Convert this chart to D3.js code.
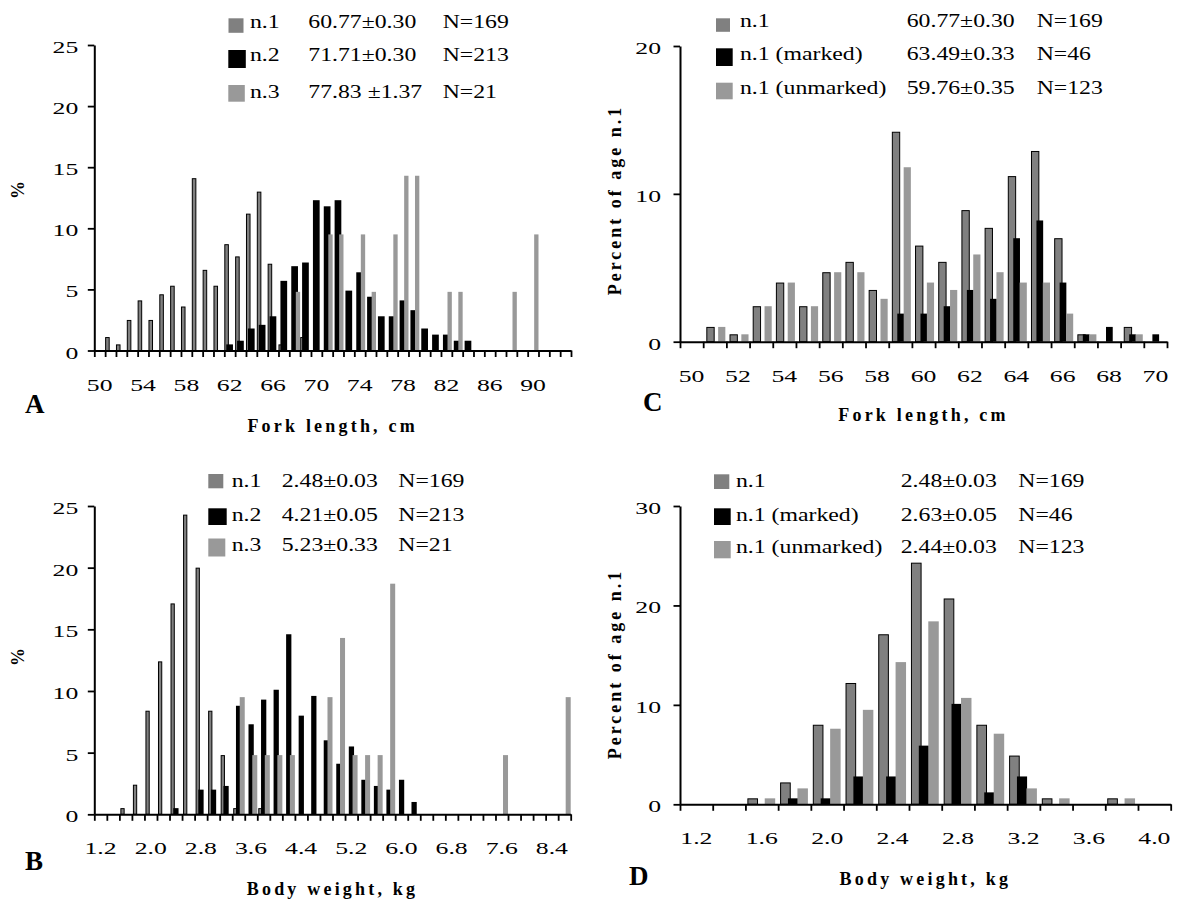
<!DOCTYPE html>
<html><head><meta charset="utf-8">
<script src="https://cdn.jsdelivr.net/npm/d3@7"></script>
<style>body{margin:0;background:#fff}svg{display:block}</style>
</head><body>
<svg id="chart" width="1182" height="901"></svg>
<script>
// ================= DATA =================
// Panel A: fork length (cm) categories, % per age group
const catsA = ["50","51","52","53","54","55","56","57","58","59","60","61","62","63","64","65","66","67","68","69","70","71","72","73","74","75","76","77","78","79","80","81","82","83","84","85","86","87","88","89","90","91","92","93"];
const aN1 = [[51,1.1],[52,0.5],[53,2.5],[54,4.1],[55,2.5],[56,4.6],[57,5.3],[58,3.6],[59,14.1],[60,6.6],[61,5.3],[62,8.7],[63,7.7],[64,11.2],[65,13.0],[66,7.1],[67,0.5],[69,1.1]];
const aN2 = [[62,0.5],[63,0.8],[64,1.8],[65,2.1],[66,2.8],[67,5.7],[68,6.9],[69,7.2],[70,12.3],[71,11.8],[72,12.3],[73,4.9],[74,6.4],[75,4.4],[76,2.8],[77,2.8],[78,4.1],[79,3.3],[80,1.8],[81,1.3],[82,1.3],[83,0.8],[84,0.8]];
const aN3 = [[68,4.8],[71,9.5],[72,9.5],[74,9.5],[75,4.8],[77,9.5],[78,14.3],[79,14.3],[82,4.8],[83,4.8],[88,4.8],[90,9.5]];

// Panel B: body weight (kg) categories
const catsB = ["1.2","1.4","1.6","1.8","2.0","2.2","2.4","2.6","2.8","3.0","3.2","3.4","3.6","3.8","4.0","4.2","4.4","4.6","4.8","5.0","5.2","5.4","5.6","5.8","6.0","6.2","6.4","6.6","6.8","7.0","7.2","7.4","7.6","7.8","8.0","8.2","8.4","8.6"];
const bN1 = [["1.6",0.5],["1.8",2.4],["2.0",8.4],["2.2",12.4],["2.4",17.1],["2.6",24.3],["2.8",20.0],["3.0",8.4],["3.2",4.8],["3.4",0.5],["3.8",0.5]];
const bN2 = [["2.4",0.5],["2.8",2.0],["3.0",2.0],["3.2",2.3],["3.4",8.8],["3.6",7.3],["3.8",9.3],["4.0",10.1],["4.2",14.6],["4.4",8.0],["4.6",9.6],["4.8",6.0],["5.0",4.1],["5.2",5.5],["5.4",2.8],["5.6",2.3],["5.8",2.0],["6.0",2.8],["6.2",1.0]];
const bN3 = [["3.4",9.5],["3.6",4.8],["3.8",4.8],["4.0",4.8],["4.2",4.8],["4.8",9.5],["5.0",14.3],["5.2",4.8],["5.4",4.8],["5.6",4.8],["5.8",18.7],["7.6",4.8],["8.6",9.5]];

// Panel C: fork length, age n.1 split marked / unmarked
const catsC = ["50","51","52","53","54","55","56","57","58","59","60","61","62","63","64","65","66","67","68","69","70"];
const cAll = [[51,1.0],[52,0.5],[53,2.4],[54,4.0],[55,2.4],[56,4.7],[57,5.4],[58,3.5],[59,14.2],[60,6.5],[61,5.4],[62,8.9],[63,7.7],[64,11.2],[65,12.9],[66,7.0],[67,0.5],[69,1.0]];
const cMarked = [[59,1.9],[60,1.9],[61,2.4],[62,3.5],[63,2.9],[64,7.0],[65,8.2],[66,4.0],[67,0.5],[68,1.0],[69,0.5],[70,0.5]];
const cUnmarked = [[51,1.0],[52,0.5],[53,2.4],[54,4.0],[55,2.4],[56,4.7],[57,4.7],[58,2.9],[59,11.8],[60,4.0],[61,3.5],[62,5.9],[63,4.7],[64,4.0],[65,4.0],[66,1.9],[67,0.5],[69,0.5]];

// Panel D: body weight, age n.1 split
const catsD = ["1.2","1.4","1.6","1.8","2.0","2.2","2.4","2.6","2.8","3.0","3.2","3.4","3.6","3.8","4.0"];
const dAll = [["1.6",0.6],["1.8",2.2],["2.0",8.0],["2.2",12.2],["2.4",17.1],["2.6",24.3],["2.8",20.7],["3.0",8.0],["3.2",4.9],["3.4",0.6],["3.8",0.6]];
const dMarked = [["1.8",0.6],["2.0",0.6],["2.2",2.8],["2.4",2.8],["2.6",5.9],["2.8",10.1],["3.0",1.2],["3.2",2.8]];
const dUnmarked = [["1.6",0.6],["1.8",1.6],["2.0",7.6],["2.2",9.5],["2.4",14.3],["2.6",18.4],["2.8",10.7],["3.0",7.1],["3.2",1.6],["3.4",0.6],["3.8",0.6]];

// Legends
const namesAB = ["n.1","n.2","n.3"];
const namesCD = ["n.1","n.1 (marked)","n.1 (unmarked)"];
const statsA = ["60.77±0.30","71.71±0.30","77.83 ±1.37"];
const statsB = ["2.48±0.03","4.21±0.05","5.23±0.33"];
const statsC = ["60.77±0.30","63.49±0.33","59.76±0.35"];
const statsD = ["2.48±0.03","2.63±0.05","2.44±0.03"];
const countsAB = ["N=169","N=213","N=21"];
const countsCD = ["N=169","N=46","N=123"];
const yTicksA = [0,5,10,15,20,25], yTicksB = [0,5,10,15,20,25], yTicksC = [0,10,20], yTicksD = [0,10,20,30];

// ================= DRAW =================
const FONT = "'Liberation Serif','Times New Roman',serif";
const C1 = "#808080", C2 = "#000000", C3 = "#999999";
const svg = d3.select("#chart");

function txt(parent, str, x, y, o = {}) {
  let tr = `translate(${x},${y})`;
  if (o.rot) tr += ` rotate(${o.rot})`;
  if (o.sx) tr += ` scale(${o.sx},1)`;
  const t = parent.append("text").text(str).attr("transform", tr)
    .attr("font-family", FONT).attr("font-size", o.size || 19)
    .attr("font-weight", o.bold ? "bold" : "normal")
    .attr("text-anchor", o.anchor || "start").attr("fill", "#000");
  if (o.ls) t.attr("letter-spacing", o.ls);
  return t;
}

const panels = [
  { cats: catsA, x0: 94.3, x1: 571, y0: 350.5, yTop: 45, ymax: 25, yt: yTicksA, every: 4, ylOff: 16,
    series: [ {data: aN1, color: C1, stroke: true, f: [0, 0.42]},
              {data: aN2, color: C2, f: [0.18, 0.80]},
              {data: aN3, color: C3, f: [0.60, 1.0]} ],
    ytitle: "%", ytX: 24, ytY: 190, xtitle: "Fork length, cm", xtY: 432, letter: "A", lX: 25, lY: 413,
    leg: { names: namesAB, stats: statsA, ns: countsAB,
           sq: [[228.5, 18.3, 15, 14.5], [228.3, 50, 17.5, 18], [228.3, 85, 16.5, 16.7]],
           tx: 250, vx: 308.3, nx: 442.7, base: [27.5, 61, 97.5] } },
  { cats: catsB, x0: 94.3, x1: 570.7, y0: 814.3, yTop: 506, ymax: 25, yt: yTicksB, every: 4, ylOff: 16,
    series: [ {data: bN1, color: C1, stroke: true, f: [0.08, 0.42]},
              {data: bN2, color: C2, f: [0.30, 0.72]},
              {data: bN3, color: C3, f: [0.60, 1.0]} ],
    ytitle: "%", ytX: 24, ytY: 657, xtitle: "Body weight, kg", xtY: 895, letter: "B", lX: 25, lY: 870,
    leg: { names: namesAB, stats: statsB, ns: countsAB,
           sq: [[208.3, 474, 15, 14.3], [208.3, 508.3, 18.4, 16.7], [208.3, 538.5, 17, 18]],
           tx: 231.7, vx: 281.7, nx: 398.3, base: [487, 521, 551] } },
  { cats: catsC, x0: 680, x1: 1167, y0: 341.7, yTop: 46, ymax: 20, yt: yTicksC, every: 2, ylOff: 19,
    series: [ {data: cAll, color: C1, stroke: true, f: [0.135, 0.495]},
              {data: cMarked, color: C2, f: [0.37, 0.66]},
              {data: cUnmarked, color: C3, f: [0.645, 0.955]} ],
    ytitle: "Percent of age n.1", ytX: 621, ytY: 200, xtitle: "Fork length, cm", xtY: 421, letter: "C", lX: 643, lY: 411,
    leg: { names: namesCD, stats: statsC, ns: countsCD,
           sq: [[716, 18.3, 14, 13.5], [716, 48.3, 16.7, 17.7], [716, 82.7, 16.7, 16.6]],
           tx: 740, vx: 906.7, nx: 1036.7, base: [26.5, 60, 93.5] } },
  { cats: catsD, x0: 680, x1: 1170.7, y0: 804.3, yTop: 506, ymax: 30, yt: yTicksD, every: 2, ylOff: 19,
    series: [ {data: dAll, color: C1, stroke: true, f: [0.06, 0.385]},
              {data: dMarked, color: C2, f: [0.30, 0.61]},
              {data: dUnmarked, color: C3, f: [0.59, 0.91]} ],
    ytitle: "Percent of age n.1", ytX: 621, ytY: 664, xtitle: "Body weight, kg", xtY: 885, letter: "D", lX: 629, lY: 885,
    leg: { names: namesCD, stats: statsD, ns: countsCD,
           sq: [[714, 474.3, 15.3, 14.7], [714, 508.3, 16.7, 16.7], [714, 541, 16.7, 17.3]],
           tx: 736, vx: 900.7, nx: 1018.3, base: [487, 521, 553] } }
];

const TICK_SIZE = 17.5, TICK_SX = 1.47;

panels.forEach(p => {
  const g = svg.append("g");
  const x = d3.scaleBand().domain(p.cats).range([p.x0, p.x1]).padding(0);
  const y = d3.scaleLinear().domain([0, p.ymax]).range([p.y0, p.yTop]);
  const W = x.bandwidth();

  // bars
  p.series.forEach(s => {
    const sw = s.stroke ? 1 : 0;
    g.append("g").selectAll("rect")
      .data(s.data.filter(d => d[1] > 0))
      .join("rect")
      .attr("x", d => x(String(d[0])) + s.f[0] * W + sw / 2)
      .attr("width", (s.f[1] - s.f[0]) * W - sw)
      .attr("y", d => y(d[1]) + sw / 2)
      .attr("height", d => y(0) - y(d[1]) - sw / 2)
      .attr("fill", s.color)
      .attr("stroke", s.stroke ? "#000" : "none")
      .attr("stroke-width", sw);
  });

  // x axis: boundary ticks
  const xb = d3.scaleLinear().domain([0, p.cats.length]).range([p.x0, p.x1]);
  const ax = g.append("g").attr("transform", `translate(0,${p.y0})`)
    .call(d3.axisBottom(xb).tickValues(d3.range(0, p.cats.length + 1)).tickSize(6.5).tickSizeOuter(0).tickFormat(""));
  ax.select(".domain").attr("stroke-width", 2);
  ax.selectAll(".tick line").attr("stroke-width", 1.8);

  // x labels at category centres
  const lab = g.append("g").attr("transform", `translate(0,${p.y0})`)
    .call(d3.axisBottom(x).tickValues(p.cats.filter((c, i) => i % p.every === 0)).tickSize(0));
  lab.select(".domain").remove();
  lab.selectAll(".tick text")
    .attr("x", null).attr("y", null).attr("dy", null)
    .attr("transform", `translate(0,40) scale(${TICK_SX},1)`)
    .attr("font-family", FONT).attr("font-size", TICK_SIZE).attr("fill", "#000");

  // y axis
  const ay = g.append("g").attr("transform", `translate(${p.x0},0)`)
    .call(d3.axisLeft(y).tickValues(p.yt).tickSize(6.5).tickSizeOuter(0).tickFormat(d3.format("d")));
  ay.select(".domain").attr("stroke-width", 2);
  ay.selectAll(".tick line").attr("stroke-width", 1.8);
  ay.selectAll(".tick text")
    .attr("x", null).attr("y", null).attr("dy", null)
    .attr("transform", `translate(${-p.ylOff},7.5) scale(${TICK_SX},1)`)
    .attr("text-anchor", "end")
    .attr("font-family", FONT).attr("font-size", TICK_SIZE).attr("fill", "#000");

  // titles
  txt(g, p.ytitle, p.ytX, p.ytY, { rot: -90, anchor: "middle", bold: true, size: 18, ls: p.ytitle.length > 2 ? 3 : 0 });
  txt(g, p.xtitle, (p.x0 + p.x1) / 2, p.xtY, { anchor: "middle", bold: true, size: 18, ls: 3.2 });
  txt(g, p.letter, p.lX, p.lY, { bold: true, size: 27 });

  // legend
  const L = p.leg;
  p.series.forEach((s, i) => {
    const q = L.sq[i];
    g.append("rect").attr("x", q[0]).attr("y", q[1]).attr("width", q[2]).attr("height", q[3]).attr("fill", s.color);
    txt(g, L.names[i], L.tx, L.base[i], { size: 19, sx: 1.25 });
    txt(g, L.stats[i], L.vx, L.base[i], { size: 19, sx: 1.25 });
    txt(g, L.ns[i], L.nx, L.base[i], { size: 19, sx: 1.25 });
  });
});
</script>
</body></html>
